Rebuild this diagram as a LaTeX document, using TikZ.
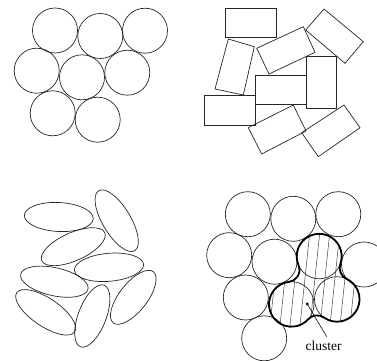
\documentclass[tikz,border=0pt]{standalone}
\usepackage{fontspec}
\setmainfont{Liberation Serif}
\begin{document}
\begin{tikzpicture}[x=1pt,y=1pt,
  thin line/.style={line width=0.7pt, draw=black!85},
  hatch/.style={line width=0.45pt, draw=black!80},
  clusterline/.style={line width=1.8pt, draw=black},
  disc/.style={thin line},
  grain/.style={thin line, line join=miter}]
\useasboundingbox (0,0) rectangle (377,360);
\clip (0,0) rectangle (377,360);
% ---------- top-left: circles
\foreach \cx/\cy in {55/329.5, 100.3/324, 145/329.3, 36.7/289.3, 82/282.7,
                     127.3/287.3, 52.7/246.7, 97.7/240.3}
  \draw[disc] (\cx,\cy) circle[radius=22.5];
% ---------- top-right: rectangles
\draw[grain] (225,351.7) -- (276.7,351.7) -- (276.7,322.3) -- (225,322.3) -- cycle;
\draw[grain] (228.3,321) -- (254.3,313.3) -- (243.3,265) -- (215,271) -- cycle;
\draw[grain] (256.7,311.7) -- (303.3,333.3) -- (315,307.7) -- (269,286) -- cycle;
\draw[grain] (324,351) -- (363.3,318.3) -- (345,296.7) -- (305.7,330) -- cycle;
\draw[grain] (306.7,303.3) -- (336.7,303.3) -- (336.7,251.7) -- (306.7,251.7) -- cycle;
\draw[grain] (255.7,284.3) -- (306.7,284.3) -- (306.7,255.7) -- (255.7,255.7) -- cycle;
\draw[grain] (204,264.3) -- (255.3,264.3) -- (255.3,235) -- (204,235) -- cycle;
\draw[grain] (248.3,232.3) -- (293.3,255) -- (306,229) -- (261.7,206) -- cycle;
\draw[grain] (301.7,227.3) -- (344,255) -- (360,232.3) -- (318.3,203.3) -- cycle;
% ---------- bottom-left: ellipses
\foreach \cx/\cy/\rx/\ry/\a in {58.8/143/34.5/14.5/-3, 116.7/139.3/35/14/121,
    73.3/113.3/34.5/14/24, 109/92.7/34.7/14/5, 54.3/78.3/34.5/14/-12.5,
    45.7/47.7/35/14/-34, 92.3/44/33/14/69, 133.3/62.7/32.5/14/52}
  \draw[disc] (\cx,\cy) circle[x radius=\rx, y radius=\ry, rotate=\a];
% ---------- bottom-right: circles with a cluster
\foreach \cx/\cy in {247.8/145.8, 293.3/141.2, 338.3/145.8, 229.2/104.8,
    274.5/98.3, 319.2/103.7, 364/95.5, 245.8/62.5, 291.5/55.8, 337/60.8,
    264.2/21.7}
  \draw[disc] (\cx,\cy) circle[radius=22.5];
\def\clusterpath{(324.0,42.43)
  arc[start angle=-125.28, end angle=64.86, radius=22.5]
  arc[start angle=-115.14, end angle=-199.78, radius=12]
  arc[start angle=-19.78, end angle=203.27, radius=22.5]
  arc[start angle=23.27, end angle=-83.36, radius=12]
  arc[start angle=96.64, end angle=317.82, radius=22.5]
  arc[start angle=137.82, end angle=54.72, radius=12] -- cycle}
\begin{scope}
  \clip \clusterpath;
  \foreach \k in {-7,...,3}
    \draw[hatch] ({333+10*\k-7.36},-7) -- ({333+10*\k+7.36},133);
\end{scope}
\draw[clusterline] \clusterpath;
% label
\node[circle, fill=black, inner sep=0pt, minimum size=3.2pt] (dot) at (307.3,56) {};
\node[font=\fontsize{13.5}{15}\selectfont, anchor=base, inner sep=0pt] (lab) at (323.5,10) {cluster};
\coordinate (lend) at (326.7,23.3);
\draw[thin line] (dot.center) -- (lend);
\end{tikzpicture}
\end{document}
